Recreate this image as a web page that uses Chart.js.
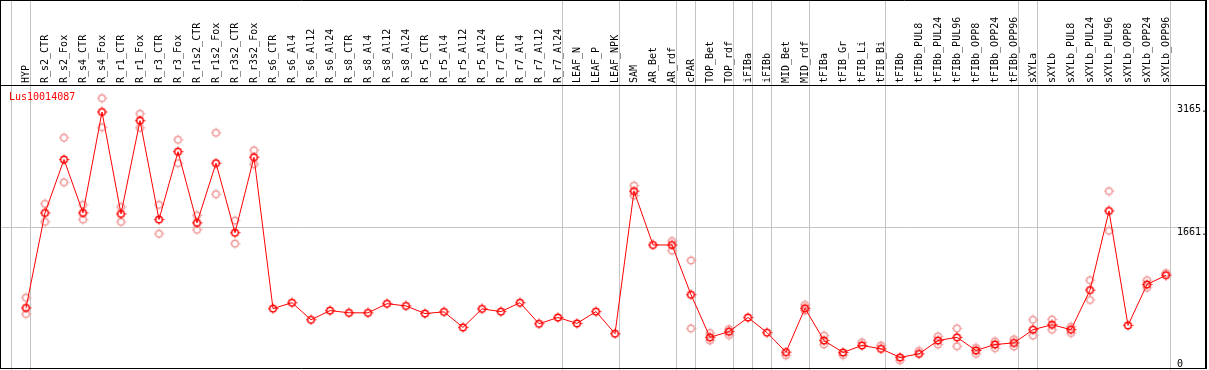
<!DOCTYPE html>
<html>
<head>
<meta charset="utf-8">
<script src="https://cdn.jsdelivr.net/npm/chart.js@4.4.1/dist/chart.umd.min.js"></script>
<style>
  html, body { margin: 0; padding: 0; background: #fff; }
  canvas { display: block; }
</style>
</head>
<body>
<canvas id="expr" width="1209" height="370"></canvas>
<script>
// --- data ---
const samples = ['HYP', 'R_s2_CTR', 'R_s2_Fox', 'R_s4_CTR', 'R_s4_Fox', 'R_r1_CTR', 'R_r1_Fox',
  'R_r3_CTR', 'R_r3_Fox', 'R_r1s2_CTR', 'R_r1s2_Fox', 'R_r3s2_CTR', 'R_r3s2_Fox',
  'R_s6_CTR', 'R_s6_Al4', 'R_s6_Al12', 'R_s6_Al24', 'R_s8_CTR', 'R_s8_Al4', 'R_s8_Al12', 'R_s8_Al24',
  'R_r5_CTR', 'R_r5_Al4', 'R_r5_Al12', 'R_r5_Al24', 'R_r7_CTR', 'R_r7_Al4', 'R_r7_Al12', 'R_r7_Al24',
  'LEAF_N', 'LEAF_P', 'LEAF_NPK', 'SAM', 'AR_Bet', 'AR_rdf', 'cPAR', 'TOP_Bet', 'TOP_rdf',
  'iFIBa', 'iFIBb', 'MID_Bet', 'MID_rdf', 'tFIBa', 'tFIB_Gr', 'tFIB_Li', 'tFIB_Bi',
  'tFIBb', 'tFIBb_PUL8', 'tFIBb_PUL24', 'tFIBb_PUL96', 'tFIBb_OPP8', 'tFIBb_OPP24', 'tFIBb_OPP96',
  'sXYLa', 'sXYLb', 'sXYLb_PUL8', 'sXYLb_PUL24', 'sXYLb_PUL96', 'sXYLb_OPP8', 'sXYLb_OPP24', 'sXYLb_OPP96'];

const meanValues = [674, 1829, 2478, 1829, 3056, 1817, 2951, 1748, 2574, 1708, 2434, 1588, 2506,
  665, 737, 529, 641, 614, 614, 725, 698, 605, 626, 437, 662, 629, 737, 481, 557,
  485, 629, 361, 2093, 1439, 1439, 834, 316, 385, 557, 373, 136, 669,
  277, 132, 217, 176, 72, 115, 277, 316, 156, 229, 248,
  409, 469, 409, 890, 1853, 461, 958, 1071];

const rep1 = [798, 1940, 2743, 1928, 3224, 1901, 3035, 1928, 2719, 1800, 2803, 1736, 2590,
  null, null, null, null, null, null, null, null, null, null, null, null, null, null, null, null,
  null, null, null, 2161, null, 1487, 1251, 368, 416, null, null, 96, 710,
  337, 100, 256, 217, 36, 152, 328, 425, 188, 268, 292,
  529, 533, 445, 1011, 2093, null, 1011, 1098];

const rep2 = [600, 1720, 2201, 1748, 2870, 1720, 2863, 1576, 2434, 1624, 2057, 1456, 2422,
  null, null, null, null, null, null, null, null, null, null, null, null, null, null, null, null,
  null, null, null, 2040, null, 1371, 425, 277, 344, null, null, null, 641,
  229, null, null, null, null, null, 229, 208, 115, 184, 205,
  337, 409, 368, 770, 1612, null, 918, null];

const geneName = 'Lus10014087';
const yTicks = [0, 1661, 3165];
const yTickLabels = ['0', '1661.', '3165.'];
// last sample of each group (a grey separator follows it)
const groupEnds = [-1, 0, 28, 31, 34, 35, 37, 38, 39, 41, 45, 52, 53, 60];

const toPoints = arr => arr.map((v, i) => ({ x: i, y: v }));

const MONO = '10px "DejaVu Sans Mono", monospace';
const GREY = '#c4c4c4';

// small open circle with tick marks, like the original marker
function makeMarker(color) {
    const c = document.createElement('canvas');
    c.width = 11;
    c.height = 11;
    const g = c.getContext('2d');
    g.strokeStyle = color;
    g.lineWidth = 1.5;
    g.beginPath();
    g.arc(5.5, 5.5, 3.3, 0, 2 * Math.PI);
    g.stroke();
    g.lineWidth = 1;
    g.beginPath();
    g.moveTo(5.5, 0.5); g.lineTo(5.5, 2);
    g.moveTo(5.5, 9); g.lineTo(5.5, 10.5);
    g.moveTo(0.5, 5.5); g.lineTo(2, 5.5);
    g.moveTo(9, 5.5); g.lineTo(10.5, 5.5);
    g.stroke();
    return c;
}
const redMarker = makeMarker('#ff0000');
const pinkMarker = makeMarker('#f09a9a');

const framePlugin = {
    id: 'frame',
    beforeDatasetsDraw: chart => {
        const ctx = chart.ctx;
        const xs = chart.scales.x;
        const ys = chart.scales.y;
        ctx.save();
        ctx.strokeStyle = GREY;
        ctx.lineWidth = 1;
        // group separators
        groupEnds.forEach(i => {
            const px = Math.floor(xs.getPixelForValue(i) + 4) + 0.5;
            ctx.beginPath();
            ctx.moveTo(px, 0);
            ctx.lineTo(px, chart.height);
            ctx.stroke();
        });
        // middle gridline
        const gy = Math.round(ys.getPixelForValue(yTicks[1])) + 0.5;
        ctx.beginPath();
        ctx.moveTo(0, gy);
        ctx.lineTo(1206, gy);
        ctx.stroke();
        ctx.restore();
    },
    afterDraw: chart => {
        const ctx = chart.ctx;
        const xs = chart.scales.x;
        const ys = chart.scales.y;
        ctx.save();
        ctx.font = MONO;

        // rotated sample names in the header
        ctx.fillStyle = '#000';
        ctx.textAlign = 'left';
        ctx.textBaseline = 'middle';
        samples.forEach((s, i) => {
            ctx.save();
            ctx.translate(xs.getPixelForValue(i), 83);
            ctx.rotate(-Math.PI / 2);
            ctx.fillText(s, 0, 0);
            ctx.restore();
        });

        // value labels on the right
        ctx.textBaseline = 'top';
        yTicks.forEach((t, k) => {
            let py = ys.getPixelForValue(t);
            if (t === 0) py = 358;
            ctx.fillText(yTickLabels[k], 1177, py + 1);
        });

        // gene name
        ctx.fillStyle = '#ff0000';
        ctx.textBaseline = 'middle';
        ctx.fillText(geneName, 9, 97);

        // black frame
        ctx.strokeStyle = '#000';
        ctx.lineWidth = 1;
        ctx.beginPath();
        ctx.moveTo(0.5, 0.5);
        ctx.lineTo(1205.5, 0.5);
        ctx.moveTo(0.5, 85.5);
        ctx.lineTo(1205.5, 85.5);
        ctx.moveTo(0.5, 368.5);
        ctx.lineTo(1205.5, 368.5);
        ctx.moveTo(0.5, 0);
        ctx.lineTo(0.5, 369);
        ctx.stroke();
        ctx.lineWidth = 2;
        ctx.beginPath();
        ctx.moveTo(1206, 0);
        ctx.lineTo(1206, 369);
        ctx.stroke();
        ctx.restore();
    }
};

new Chart(document.getElementById('expr'), {
    type: 'line',
    data: {
        datasets: [
            {
                label: geneName,
                data: toPoints(meanValues),
                borderColor: '#ff0000',
                borderWidth: 1,
                pointStyle: redMarker,
                pointRadius: 4,
                tension: 0,
                clip: false
            },
            {
                label: 'rep1',
                data: toPoints(rep1),
                showLine: false,
                pointStyle: pinkMarker,
                pointRadius: 4,
                clip: false
            },
            {
                label: 'rep2',
                data: toPoints(rep2),
                showLine: false,
                pointStyle: pinkMarker,
                pointRadius: 4,
                clip: false
            }
        ]
    },
    options: {
        responsive: false,
        animation: false,
        devicePixelRatio: 1,
        layout: {
            padding: { left: 26, right: 43, top: 86, bottom: 2 }
        },
        plugins: {
            legend: { display: false },
            tooltip: { enabled: false }
        },
        scales: {
            x: { type: 'linear', min: 0, max: samples.length - 1, display: false },
            y: { type: 'linear', min: -20.5, max: 3372, display: false }
        }
    },
    plugins: [framePlugin]
});
</script>
</body>
</html>
